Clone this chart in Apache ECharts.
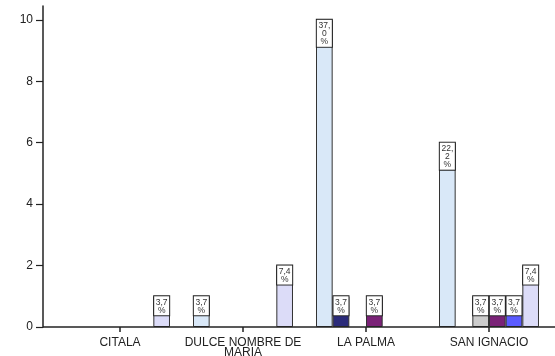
<!DOCTYPE html>
<html><head><meta charset="utf-8">
<script src="https://cdn.jsdelivr.net/npm/echarts@6/dist/echarts.min.js"></script>
<style>html,body{margin:0;padding:0;background:#fff}#c{width:555px;height:356px}</style>
</head><body><div id="c"></div>
<script>
const categories = ['CITALA', 'DULCE NOMBRE DE\nMARIA', 'LA PALMA', 'SAN IGNACIO'];
const total = 27;
const s1 = [null, 1, 10, 6];
const s2 = [null, null, 1, null];
const s3 = [null, null, null, 1];
const s4 = [null, null, 1, 1];
const s5 = [null, null, null, 1];
const s6 = [1, 2, null, 2];
const colors = ['#d9e8f8', '#2b2b7a', '#cccccc', '#7a2277', '#5b5bff', '#dcdcf8'];
const yTicks = [0, 2, 4, 6, 8, 10];

function pctLabel(v) {
  let s = (v / total * 100).toFixed(1).replace('.', ',');
  if (s.length > 3) s = s.slice(0, 3) + '\n' + s.slice(3);
  return s + '\n%';
}
const seriesData = [s1, s2, s3, s4, s5, s6];
const chart = echarts.init(document.getElementById('c'), null, {renderer: 'canvas'});
const gridLeft = 58.5, gridBottom = 29, gridTop = 6, gridRight = 4.5;
chart.setOption({
  animation: false,
  grid: {left: gridLeft, right: gridRight, top: gridTop, bottom: gridBottom, containLabel: false, outerBoundsMode: 'none'},
  xAxis: {
    type: 'category', data: categories,
    axisLine: {show: false},
    axisTick: {show: true, alignWithLabel: true, length: 5, lineStyle: {color: '#222', width: 1.5}},
    axisLabel: {color: '#222', fontFamily: 'Liberation Sans', fontSize: 12, margin: 11, lineHeight: 9.5, interval: 0}
  },
  yAxis: {
    type: 'value', min: 0, max: 10.45, offset: 15.5,
    splitLine: {show: false},
    axisLine: {show: true, lineStyle: {color: '#222', width: 1.5}},
    axisTick: {show: true, length: 7, customValues: yTicks, lineStyle: {color: '#222', width: 1.2}},
    axisLabel: {color: '#222', fontFamily: 'Liberation Sans', fontSize: 12, margin: 10, customValues: yTicks}
  },
  series: seriesData.map((d, i) => ({
    type: 'bar', data: d, barGap: 0, barCategoryGap: '18.7%',
    itemStyle: {color: colors[i], borderColor: '#333', borderWidth: 1},
    label: {
      show: true, position: 'insideTop', distance: 0,
      formatter: p => pctLabel(p.value),
      backgroundColor: '#fff', borderColor: '#222', borderWidth: 1,
      color: '#333', fontFamily: 'Liberation Sans', fontSize: 8.5, lineHeight: 8,
      width: 15, align: 'center', padding: [2, 0, 1, 0]
    }
  })),
  graphic: [{
    type: 'line', z: 100,
    shape: {x1: 43, y1: 356 - gridBottom, x2: 555, y2: 356 - gridBottom},
    style: {stroke: '#222', lineWidth: 1.5}
  }]
});
</script></body></html>
